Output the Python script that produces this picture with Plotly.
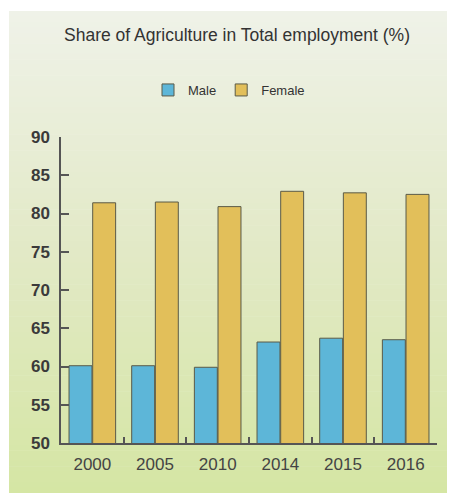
import plotly.graph_objects as go

years = ["2000", "2005", "2010", "2014", "2015", "2016"]
male = [60.1, 60.1, 59.9, 63.2, 63.7, 63.5]
female = [81.4, 81.5, 80.9, 82.9, 82.7, 82.5]
y_ticks = [50, 55, 60, 65, 70, 75, 80, 85, 90]

W, H = 454, 493
ML, MR, MT, MB = 61, 17, 137, 50
PW, PH = W - ML - MR, H - MT - MB


def px_x(p):
    return (p - ML) / PW


def px_y(p):
    return (H - MB - p) / PH


fig = go.Figure()
fig.add_trace(go.Bar(
    name="Male", x=years, y=male, base=0,
    marker=dict(color="#5db6d8", line=dict(color="#5a5a48", width=1)),
))
fig.add_trace(go.Bar(
    name="Female", x=years, y=female, base=0,
    marker=dict(color="#e2bf5a", line=dict(color="#5a5a48", width=1)),
))

# vertical background gradient panel made from thin strips
top_c = (239, 242, 232)
mid_c = (226, 233, 198)
bot_c = (213, 230, 164)
x0, x1, y0, y1 = 9, 447, 11, 493
n = 90
shapes = []
for i in range(n):
    t = i / (n - 1)
    if t < 0.5:
        a, b, u = top_c, mid_c, t / 0.5
    else:
        a, b, u = mid_c, bot_c, (t - 0.5) / 0.5
    c = tuple(round(a[k] + (b[k] - a[k]) * u) for k in range(3))
    ya = y0 + (y1 - y0) * i / n
    yb = y0 + (y1 - y0) * (i + 1) / n + 0.6
    shapes.append(dict(
        type="rect", xref="paper", yref="paper", layer="below",
        x0=px_x(x0), x1=px_x(x1), y0=px_y(ya), y1=px_y(yb),
        fillcolor="rgb(%d,%d,%d)" % c, line=dict(width=0),
    ))

fig.update_layout(
    width=W, height=H,
    margin=dict(l=ML, r=MR, t=MT, b=MB, pad=0),
    paper_bgcolor="white",
    plot_bgcolor="rgba(0,0,0,0)",
    shapes=shapes,
    barmode="group",
    bargap=0.245,
    bargroupgap=0.03,
    font=dict(family="Liberation Sans, Arial, sans-serif", color="#333"),
    title=dict(
        text="Share of Agriculture in Total employment (%)",
        x=237 / W, xref="container", xanchor="center",
        y=1 - 35 / H, yref="container", yanchor="middle",
        font=dict(size=17.5, color="#333"),
    ),
    legend=dict(
        orientation="h", x=px_x(229), xanchor="center",
        y=px_y(90), yanchor="middle",
        font=dict(size=13, color="#333"),
        bgcolor="rgba(0,0,0,0)", itemwidth=30,
    ),
    xaxis=dict(
        range=[-0.5, 5.5],
        showline=True, linecolor="#555", linewidth=1.5,
        ticks="inside", tickson="boundaries", ticklen=6,
        tickcolor="#555", tickwidth=1.5,
        tickfont=dict(size=17, color="#444"),
        ticklabelstandoff=5,
        showgrid=False, zeroline=False,
    ),
    yaxis=dict(
        range=[50, 90], tickvals=y_ticks,
        showline=True, linecolor="#555", linewidth=1.5,
        ticks="inside", ticklen=8, tickcolor="#555", tickwidth=1.5,
        tickfont=dict(size=17, color="#3a3a3a", weight="bold"),
        ticklabelstandoff=6,
        showgrid=False, zeroline=False,
    ),
)

fig.write_html("out.html")
